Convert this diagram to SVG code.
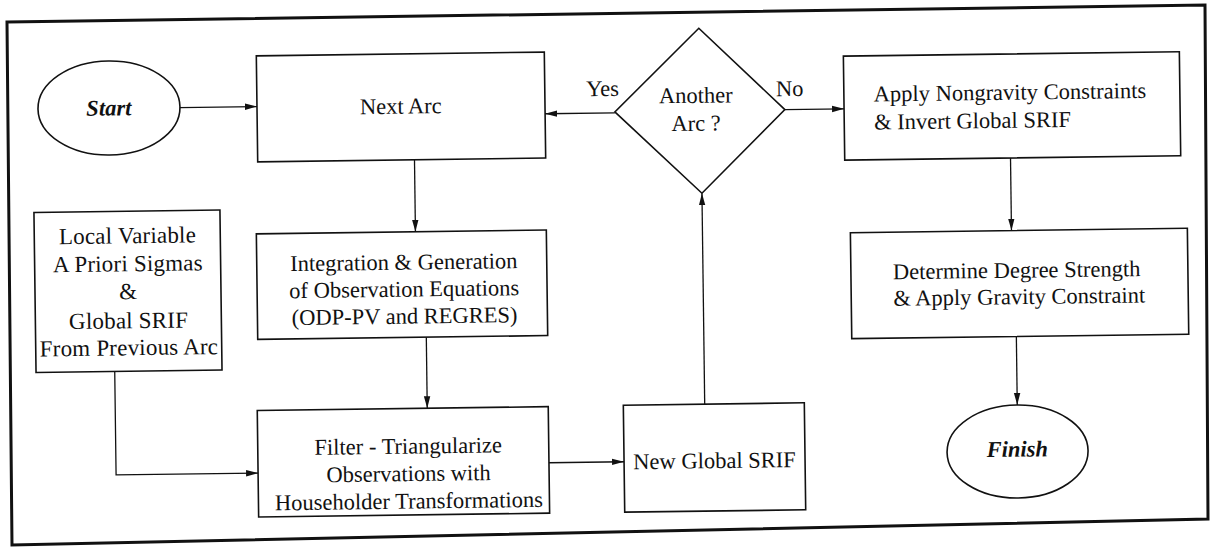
<svg xmlns="http://www.w3.org/2000/svg" width="1211" height="548" viewBox="0 0 1211 548">
<defs>
<style>
.box{fill:none;stroke:#111;stroke-width:1.6}
.edge{fill:none;stroke:#111;stroke-width:1.3}
.t{font-family:"Liberation Serif","Times New Roman",serif;font-size:22.5px;fill:#111}
.c{text-anchor:middle}
.term{font-weight:bold;font-style:italic}
.lv{font-size:23px;letter-spacing:0.2px}
</style>
<marker id="ah" markerUnits="userSpaceOnUse" markerWidth="13" markerHeight="8" refX="12" refY="4" orient="auto"><path d="M0,0.8 L12,4 L0,7.2 z" fill="#111"/></marker>
</defs>
<rect width="1211" height="548" fill="#fff"/>
<polygon id="frame" points="7,22 1205,5 1208,519 12,545" fill="none" stroke="#111" stroke-width="3"/>
<g transform="rotate(-0.75 605 274)">
<g id="connectors">
<path class="edge" d="M182,102 H259.2" marker-end="url(#ah)"/>
<path class="edge" d="M617,113 H547.2" marker-end="url(#ah)"/>
<path class="edge" d="M787,112 H846.2" marker-end="url(#ah)"/>
<path class="edge" d="M416,157.3 V229.3" marker-end="url(#ah)"/>
<path class="edge" d="M425.5,334.8 V405.9" marker-end="url(#ah)"/>
<path class="edge" d="M113.5,365 V468.5 H255.5" marker-end="url(#ah)"/>
<path class="edge" d="M546.5,462 H621.6" marker-end="url(#ah)"/>
<path class="edge" d="M703,405.4 V194.5" marker-end="url(#ah)"/>
<path class="edge" d="M1012,163.3 V235.9" marker-end="url(#ah)"/>
<path class="edge" d="M1015.5,341.9 V410.4" marker-end="url(#ah)"/>
</g>
<g id="start">
<ellipse class="box" cx="111.2" cy="101.5" rx="71" ry="47"/>
<text class="t c term" x="111" y="109">Start</text>
</g>
<g id="next-arc">
<rect class="box" x="259.2" y="51.3" width="288" height="106"/>
<text class="t c" x="403" y="111">Next Arc</text>
</g>
<g id="another-arc">
<polygon class="box" points="702,29.5 787,112 703,194.5 617,112"/>
<text class="t c" x="698" y="104">Another</text>
<text class="t c" x="698" y="132">Arc ?</text>
<text class="t c" x="605" y="96">Yes</text>
<text class="t c" x="792" y="98.5">No</text>
</g>
<g id="apply-nongravity">
<rect class="box" x="846.2" y="59.3" width="336" height="104"/>
<text class="t" x="876" y="105">Apply Nongravity Constraints</text>
<text class="t" x="876" y="133">&amp; Invert Global SRIF</text>
</g>
<g id="determine">
<rect class="box" x="850.9" y="235.9" width="337" height="106"/>
<text class="t" x="893" y="283">Determine Degree Strength</text>
<text class="t" x="893" y="309.5">&amp; Apply Gravity Constraint</text>
</g>
<g id="finish">
<ellipse class="box" cx="1015.2" cy="456.9" rx="70.5" ry="46.5"/>
<text class="t c term" x="1015" y="462">Finish</text>
</g>
<g id="local-variable">
<rect class="box" x="34.8" y="205" width="186" height="160"/>
<text class="t c lv" x="128" y="237">Local Variable</text>
<text class="t c lv" x="128" y="265">A Priori Sigmas</text>
<text class="t c lv" x="128" y="293">&amp;</text>
<text class="t c lv" x="128" y="322">Global SRIF</text>
<text class="t c lv" x="128" y="349">From Previous Arc</text>
</g>
<g id="integration">
<rect class="box" x="256.9" y="229.3" width="290" height="105.5"/>
<text class="t c" x="404" y="267">Integration &amp; Generation</text>
<text class="t c" x="404" y="294">of Observation Equations</text>
<text class="t c" x="404" y="321">(ODP-PV and REGRES)</text>
</g>
<g id="filter">
<rect class="box" x="255.5" y="405.9" width="291" height="106.5"/>
<text class="t c" x="406" y="451">Filter - Triangularize</text>
<text class="t c" x="406" y="478.5">Observations with</text>
<text class="t c" x="406" y="506">Householder Transformations</text>
</g>
<g id="new-global-srif">
<rect class="box" x="621.6" y="405.4" width="181" height="107"/>
<text class="t c" x="712" y="469.5">New Global SRIF</text>
</g>
</g>
</svg>
